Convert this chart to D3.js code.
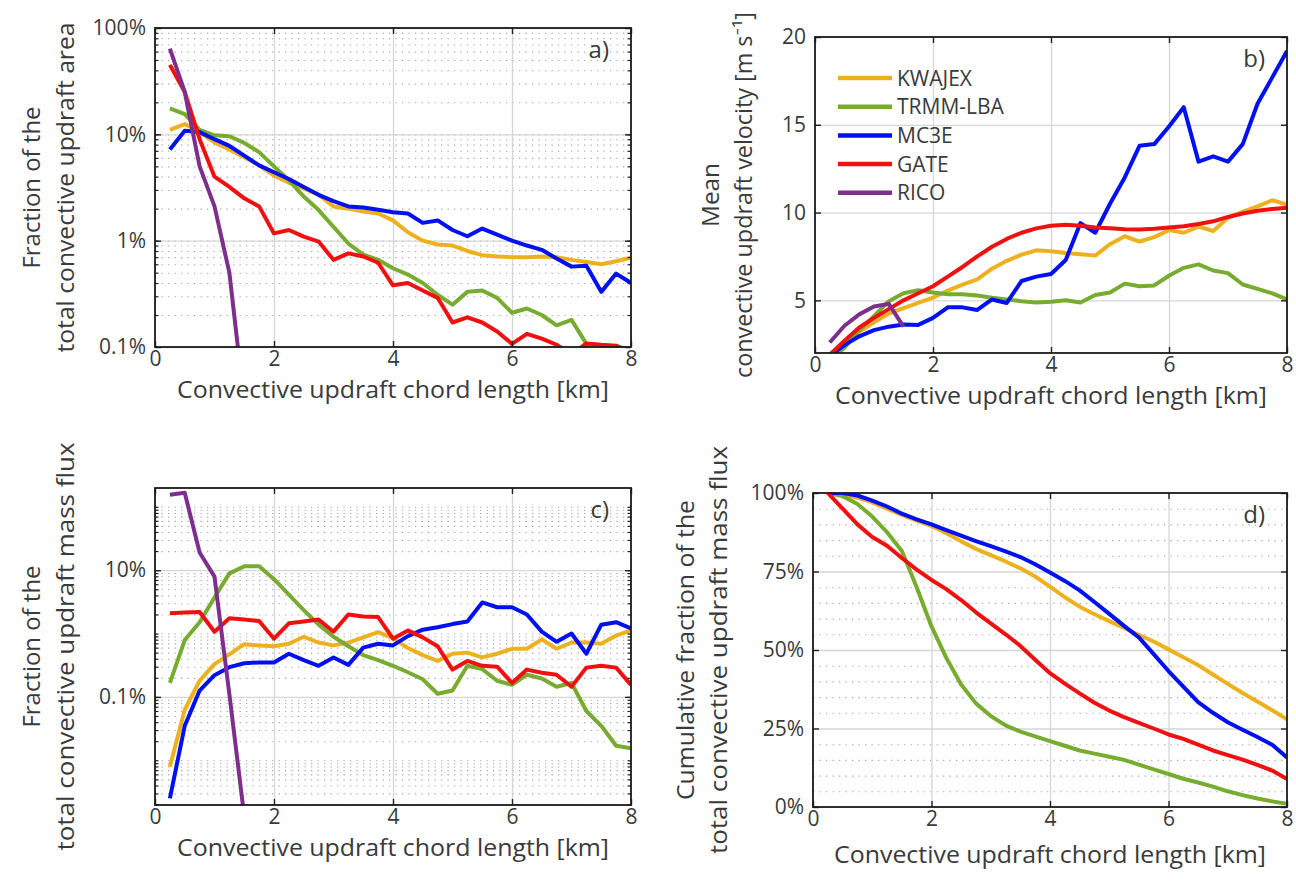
<!DOCTYPE html>
<html><head><meta charset="utf-8">
<script src="https://cdn.jsdelivr.net/npm/d3@7"></script>
<style>
body{margin:0;background:#fff;}
svg{display:block;}
text{font-family:"Open Sans",Lato,sans-serif;fill:#3a3a3a;}
</style>
</head><body>
<svg id="chart" width="1296" height="881"></svg>
<script>
// ---------- DATA ----------
const chordKm = [0.25,0.5,0.75,1.0,1.25,1.5,1.75,2.0,2.25,2.5,2.75,3.0,3.25,3.5,3.75,4.0,
                 4.25,4.5,4.75,5.0,5.25,5.5,5.75,6.0,6.25,6.5,6.75,7.0,7.25,7.5,7.75,8.0];
const ricoKm = [0.25,0.5,0.75,1.0,1.25,1.5];

const seriesNames  = ["KWAJEX","TRMM-LBA","MC3E","GATE","RICO"];
const seriesColors = ["#EDB120","#77AC30","#0010F0","#F01010","#7E2F8E"];

const xTicks = [0,2,4,6,8];

// a) fraction of total convective updraft area [%]
const areaKWAJEX = [11,12.5,10.5,8.4,7.2,6.1,5.1,4.1,3.5,3.1,2.7,2.1,2.0,1.88,1.8,1.55,
                    1.2,1.0,0.92,0.9,0.8,0.73,0.71,0.70,0.70,0.71,0.70,0.66,0.63,0.60,0.64,0.69];
const areaTRMM   = [17.5,15.5,11,9.8,9.6,8.3,6.8,5.0,3.7,2.6,1.94,1.35,0.94,0.74,0.66,0.55,
                    0.48,0.40,0.31,0.25,0.33,0.34,0.29,0.21,0.23,0.20,0.16,0.18,0.107,0.07,0.06,0.05];
const areaMC3E   = [7.2,10.8,10.5,9.0,7.8,6.3,5.1,4.4,3.8,3.2,2.7,2.35,2.1,2.05,1.95,1.85,
                    1.8,1.47,1.55,1.26,1.1,1.3,1.14,1.0,0.9,0.82,0.68,0.57,0.58,0.33,0.49,0.40];
const areaGATE   = [45,25,9,4.0,3.2,2.5,2.1,1.17,1.26,1.09,0.98,0.66,0.76,0.71,0.62,0.38,
                    0.40,0.34,0.29,0.17,0.19,0.17,0.14,0.107,0.133,0.12,0.105,0.085,0.108,0.105,0.103,0.09];
const areaRICO   = [64,25,5,2.1,0.5,0.03];
const areaTicks  = [0.1,1,10,100];
const areaTickLabels = ["0.1%","1%","10%","100%"];

// b) mean convective updraft velocity [m/s]
const velKWAJEX = [1.8,2.55,3.2,3.75,4.25,4.55,4.85,5.15,5.55,5.9,6.2,6.8,7.25,7.6,7.85,7.8,
                   7.7,7.62,7.55,8.2,8.65,8.35,8.6,9.0,8.85,9.2,8.95,9.7,10.05,10.35,10.7,10.45];
const velTRMM   = [1.6,2.3,3.3,4.1,4.95,5.4,5.58,5.45,5.35,5.35,5.28,5.15,5.05,4.95,4.88,4.92,
                   5.0,4.88,5.3,5.45,5.95,5.8,5.85,6.4,6.85,7.05,6.7,6.55,5.9,5.65,5.4,5.05];
const velMC3E   = [1.85,2.45,2.95,3.3,3.5,3.62,3.6,4.0,4.6,4.6,4.45,5.05,4.85,6.1,6.35,6.5,
                   7.3,9.4,8.85,10.5,12.0,13.8,13.9,14.9,16.0,12.9,13.2,12.9,13.9,16.2,17.7,19.2];
const velGATE   = [1.9,2.7,3.45,4.0,4.5,5.0,5.4,5.8,6.35,6.9,7.5,8.05,8.5,8.85,9.1,9.25,
                   9.3,9.25,9.15,9.1,9.05,9.03,9.08,9.15,9.22,9.35,9.5,9.75,9.95,10.1,10.2,10.28];
const velRICO   = [2.6,3.55,4.2,4.65,4.8,3.5];
const velTicks  = [5,10,15,20];

// c) fraction of total convective updraft mass flux [%]
const fluxKWAJEX = [0.0079,0.063,0.18,0.33,0.47,0.68,0.65,0.63,0.69,0.89,0.72,0.65,0.72,0.87,1.05,0.85,
                    0.59,0.457,0.37,0.48,0.5,0.42,0.48,0.575,0.575,0.81,0.575,0.72,0.72,0.69,0.93,1.12];
const fluxTRMM   = [0.166,0.79,1.51,3.7,8.9,11.5,11.5,7.2,4.1,2.34,1.38,0.89,0.63,0.457,0.38,0.31,
                    0.245,0.19,0.112,0.126,0.31,0.275,0.18,0.155,0.224,0.195,0.145,0.166,0.060,0.035,0.017,0.0155];
const fluxMC3E   = [0.0025,0.035,0.126,0.22,0.295,0.34,0.35,0.35,0.48,0.38,0.31,0.42,0.32,0.60,0.69,0.65,
                    0.91,1.15,1.26,1.41,1.55,3.1,2.6,2.6,2.0,1.07,0.74,1.0,0.48,1.38,1.51,1.2];
const fluxGATE   = [2.09,2.14,2.19,1.07,1.74,1.66,1.58,0.83,1.45,1.55,1.66,1.07,2.0,1.86,1.82,0.83,
                    1.12,0.87,0.63,0.27,0.37,0.31,0.30,0.166,0.27,0.24,0.224,0.145,0.29,0.31,0.29,0.155];
const fluxRICO   = [155,166,19,7.9,0.11,0.0013];
const fluxTicks  = [0.1,10];
const fluxTickLabels = ["0.1%","10%"];

// d) cumulative fraction of the total convective updraft mass flux [%]
const cumKWAJEX = [100,99.6,98.5,97,95,93,91.2,89.5,87.2,84.6,82.2,80.2,78.2,76,73.4,70.2,
                   66.8,63.8,61.4,59.2,57,54.8,52.7,50.2,47.7,45.2,42.2,39.2,36.3,33.6,30.8,27.9];
const cumTRMM   = [100,99,96.5,92.5,87.5,81.5,70,57.5,47.5,39,33,29,26,24,22.5,21,
                   19.5,18,17,16,15,13.5,12,10.5,9,7.8,6.5,5,3.8,2.7,1.8,1.0];
const cumMC3E   = [100,100,99.2,97.6,95.7,93.4,91.6,90,88.2,86.4,84.7,83.1,81.4,79.6,77.3,74.7,
                   72,69,65.3,61.5,57.7,54,48.7,43.3,38.3,33.4,30,27,24.6,22.3,19.8,15.8];
const cumGATE   = [100,95,90,86,83.2,79.3,75.6,72.3,69.4,65.9,62,58.5,55,51.3,46.9,42.6,
                   39.3,36.2,33.2,30.7,28.6,26.8,25,23.1,21.7,19.9,18,16.5,15.1,13.4,11.6,8.9];
const cumTicks  = [0,25,50,75,100];
const cumTickLabels = ["0%","25%","50%","75%","100%"];

const xTitle = "Convective updraft chord length [km]";

// ---------- DRAW ----------
const svg = d3.select("#chart");
const zip = (xs, ys) => xs.map((v,i)=>[v, ys[i]]);

function decadeMinors(lo, hi){
  const out=[];
  for(let e=Math.floor(Math.log10(lo)); e<=Math.ceil(Math.log10(hi)); e++){
    for(let k=1;k<=9;k++){const v=k*Math.pow(10,e); if(v>lo*1.0001 && v<hi*0.9999) out.push(v);}
  }
  return out;
}

function panel(cfg){
  const g = svg.append("g");
  const x = d3.scaleLinear().domain([0,8]).range([cfg.left,cfg.right]);
  const y = (cfg.log ? d3.scaleLog() : d3.scaleLinear()).domain(cfg.yDomain).range([cfg.bottom,cfg.top]);
  const W = cfg.right-cfg.left, H = cfg.bottom-cfg.top;
  const id = "clip"+cfg.name;
  svg.append("clipPath").attr("id",id).append("rect")
     .attr("x",cfg.left).attr("y",cfg.top).attr("width",W).attr("height",H);

  if(cfg.minor){
    g.append("g").attr("transform",`translate(${cfg.left},0)`)
     .call(d3.axisLeft(y).tickValues(cfg.minor).tickSize(-W).tickFormat(""))
     .call(s=>s.select(".domain").remove())
     .selectAll("line").attr("stroke","#a8a8a8").attr("stroke-width",1.1).attr("stroke-dasharray","1.3,5.2");
  }
  g.append("g").attr("transform",`translate(${cfg.left},0)`)
   .call(d3.axisLeft(y).tickValues(cfg.yGrid).tickSize(-W).tickFormat(""))
   .call(s=>s.select(".domain").remove())
   .selectAll("line").attr("stroke","#d6d6d6").attr("stroke-width",1.3);
  g.append("g").attr("transform",`translate(0,${cfg.bottom})`)
   .call(d3.axisBottom(x).tickValues([2,4,6]).tickSize(-H).tickFormat(""))
   .call(s=>s.select(".domain").remove())
   .selectAll("line").attr("stroke","#d6d6d6").attr("stroke-width",1.3);

  const line = d3.line().x(d=>x(d[0])).y(d=>y(d[1]));
  const lg = g.append("g").attr("clip-path",`url(#${id})`);
  cfg.series.forEach(s=>{
    lg.append("path").datum(zip(s.xs,s.ys)).attr("d",line)
      .attr("fill","none").attr("stroke",s.color).attr("stroke-width",4)
      .attr("stroke-linejoin","round").attr("stroke-linecap","butt");
  });

  const tk = (sel)=>sel.selectAll("line").attr("stroke","#222").attr("stroke-width",1.4);
  const bottomAx = g.append("g").attr("transform",`translate(0,${cfg.bottom})`)
     .call(d3.axisBottom(x).tickValues(xTicks).tickSizeInner(-6).tickSizeOuter(0).tickPadding(4).tickFormat(d3.format("d")));
  bottomAx.select(".domain").remove(); tk(bottomAx);
  bottomAx.selectAll("text").attr("font-size",21).attr("fill","#3a3a3a").attr("font-family","Lato");
  const topAx = g.append("g").attr("transform",`translate(0,${cfg.top})`)
     .call(d3.axisTop(x).tickValues(xTicks).tickSizeInner(-6).tickSizeOuter(0).tickFormat(""));
  topAx.select(".domain").remove(); tk(topAx);

  const leftAx = g.append("g").attr("transform",`translate(${cfg.left},0)`)
     .call(d3.axisLeft(y).tickValues(cfg.yTicks).tickSizeInner(-6).tickSizeOuter(0).tickPadding(9)
        .tickFormat((d,i)=>cfg.yTickLabels ? cfg.yTickLabels[i] : d3.format("d")(d)));
  leftAx.select(".domain").remove(); tk(leftAx);
  leftAx.selectAll("text").attr("font-size",21).attr("fill","#3a3a3a").attr("font-family","Lato");
  const rightAx = g.append("g").attr("transform",`translate(${cfg.right},0)`)
     .call(d3.axisRight(y).tickValues(cfg.yTicks).tickSizeInner(-6).tickSizeOuter(0).tickFormat(""));
  rightAx.select(".domain").remove(); tk(rightAx);
  if(cfg.minorTicks){
    [[cfg.left,d3.axisLeft],[cfg.right,d3.axisRight]].forEach(([px,ax])=>{
      const m = g.append("g").attr("transform",`translate(${px},0)`)
        .call(ax(y).tickValues(cfg.minorTicks).tickSizeInner(-3.5).tickSizeOuter(0).tickFormat(""));
      m.select(".domain").remove(); m.selectAll("line").attr("stroke","#222").attr("stroke-width",1.2);
    });
  }

  g.append("rect").attr("x",cfg.left).attr("y",cfg.top).attr("width",W).attr("height",H)
    .attr("fill","none").attr("stroke","#1a1a1a").attr("stroke-width",1.8);

  g.append("text").attr("x",cfg.right-22).attr("y",cfg.top+30).attr("text-anchor","end")
    .attr("font-size",24).attr("fill","#111").attr("font-family","Lato").text(cfg.name+")");

  g.append("text").attr("x",(cfg.left+cfg.right)/2).attr("y",cfg.bottom+cfg.xTitleDy)
    .attr("text-anchor","middle").attr("font-size",23)
    .attr("textLength",432).attr("lengthAdjust","spacingAndGlyphs").text(xTitle);

  const cy = (cfg.top+cfg.bottom)/2;
  cfg.yTitle.forEach((t,i)=>{
    g.append("text").attr("transform",`translate(${cfg.yTitleX[i]},${cy}) rotate(-90)`)
      .attr("text-anchor","middle").attr("font-size",23)
      .attr("textLength",cfg.yTitleLen[i]).attr("lengthAdjust","spacingAndGlyphs").text(t);
  });
  return {x,y};
}

const mk = (ys, i, xs=chordKm) => ({xs, ys, color: seriesColors[i]});

panel({name:"a", left:155,right:631,top:28,bottom:347, log:true, yDomain:[0.1,100],
  yTicks:areaTicks, yTickLabels:areaTickLabels, yGrid:areaTicks,
  minor:decadeMinors(0.1,100), minorTicks:decadeMinors(0.1,100), xTitleDy:51,
  yTitle:["Fraction of the","total convective updraft area"], yTitleX:[40,74], yTitleLen:[162,330],
  series:[mk(areaKWAJEX,0),mk(areaTRMM,1),mk(areaMC3E,2),mk(areaGATE,3),mk(areaRICO,4,ricoKm)]});

panel({name:"b", left:815,right:1287,top:37,bottom:353, log:false, yDomain:[2,20],
  yTicks:velTicks, yGrid:[5,10,15], xTitleDy:51,
  yTitle:["Mean","convective updraft velocity [m s\u207B\u00B9]"], yTitleX:[719,752], yTitleLen:[64,366],
  series:[mk(velKWAJEX,0),mk(velTRMM,1),mk(velMC3E,2),mk(velGATE,3),mk(velRICO,4,ricoKm)]});

panel({name:"c", left:155,right:631,top:488,bottom:805, log:true, yDomain:[0.00197,198],
  yTicks:fluxTicks, yTickLabels:fluxTickLabels, yGrid:fluxTicks, xTitleDy:51,
  minor:decadeMinors(0.00197,198).filter(v=>v!==0.1&&v!==10), minorTicks:decadeMinors(0.00197,198),
  yTitle:["Fraction of the","total convective updraft mass flux"], yTitleX:[40,74], yTitleLen:[162,408],
  series:[mk(fluxKWAJEX,0),mk(fluxTRMM,1),mk(fluxMC3E,2),mk(fluxGATE,3),mk(fluxRICO,4,ricoKm)]});

panel({name:"d", left:813,right:1287,top:493,bottom:807, log:false, yDomain:[0,100],
  yTicks:cumTicks, yTickLabels:cumTickLabels, yGrid:[25,50,75], xTitleDy:56,
  minor:[5,10,15,20,30,35,40,45,55,60,65,70,80,85,90,95],
  yTitle:["Cumulative fraction of the","total convective updraft mass flux"], yTitleX:[694,727], yTitleLen:[300,408],
  series:[mk(cumKWAJEX,0),mk(cumTRMM,1),mk(cumMC3E,2),mk(cumGATE,3)]});

// legend in panel b
const leg = svg.append("g");
seriesNames.forEach((n,i)=>{
  const yy = 78 + i*28.7;
  leg.append("line").attr("x1",838).attr("x2",892).attr("y1",yy).attr("y2",yy)
     .attr("stroke",seriesColors[i]).attr("stroke-width",4.5);
  leg.append("text").attr("x",897).attr("y",yy+7.5).attr("font-size",21).attr("font-family","Lato").text(n);
});
</script>
</body></html>
